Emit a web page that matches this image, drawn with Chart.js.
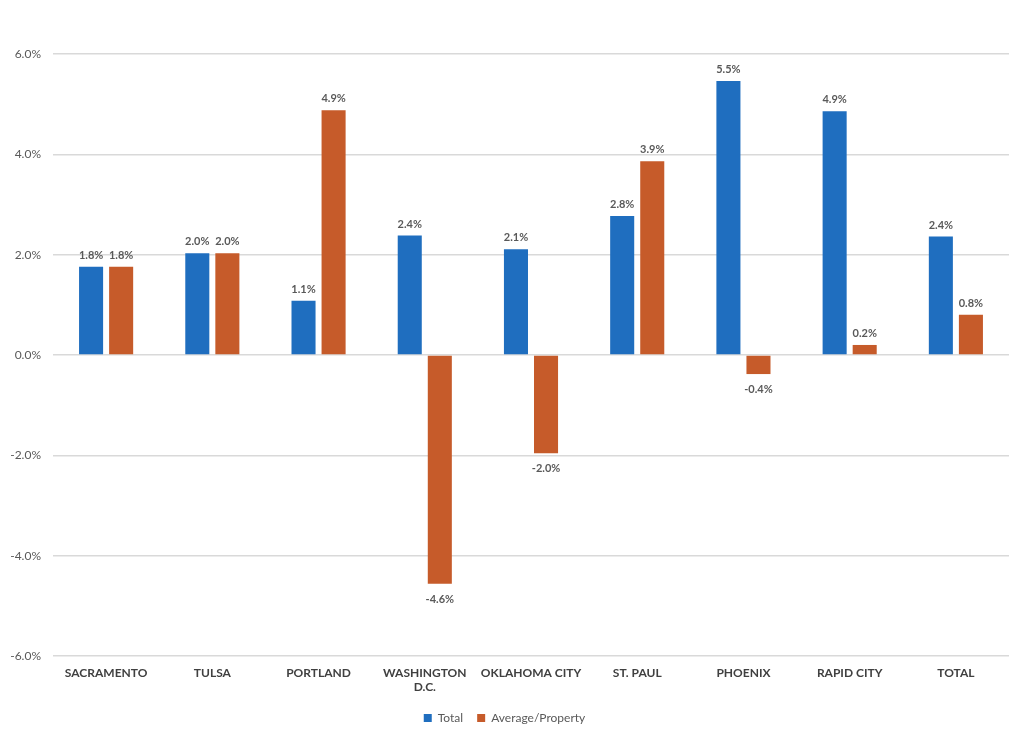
<!DOCTYPE html>
<html>
<head>
<meta charset="utf-8">
<script src="https://cdn.jsdelivr.net/npm/chart.js@4.4.1/dist/chart.umd.min.js"></script>
<style>
  html, body { margin: 0; padding: 0; background: #ffffff; }
  #wrap { width: 1024px; height: 742px; position: relative; }
</style>
</head>
<body>
<div id="wrap"><canvas id="growth-chart"></canvas></div>
<script>
const cities = [
  "SACRAMENTO",
  "TULSA",
  "PORTLAND",
  ["WASHINGTON", "D.C."],
  "OKLAHOMA CITY",
  "ST. PAUL",
  "PHOENIX",
  "RAPID CITY",
  "TOTAL",
];
const totalValues = [1.76, 2.03, 1.08, 2.38, 2.11, 2.77, 5.46, 4.86, 2.36];
const averageValues = [1.76, 2.03, 4.88, -4.56, -1.96, 3.86, -0.38, 0.2, 0.8];
const yTicks = [-6, -4, -2, 0, 2, 4, 6];

const labelColor = "#595959";
const fontFamily = "Lato, 'Open Sans', sans-serif";

const valueLabelPlugin = {
  id: "valueLabels",
  afterDatasetsDraw(chart) {
    const ctx = chart.ctx;
    ctx.save();
    ctx.font = `bold 11px ${fontFamily}`;
    ctx.fillStyle = labelColor;
    ctx.textAlign = "center";
    chart.data.datasets.forEach((dataset, datasetIndex) => {
      const meta = chart.getDatasetMeta(datasetIndex);
      meta.data.forEach((bar, index) => {
        const value = dataset.data[index];
        const text = `${value.toFixed(1)}%`;
        if (value >= 0) {
          ctx.textBaseline = "bottom";
          ctx.fillText(text, bar.x, bar.y - 6);
        } else {
          ctx.textBaseline = "top";
          ctx.fillText(text, bar.x, bar.y + 10);
        }
      });
    });
    ctx.restore();
  },
};

function renderChart() {
  const canvas = document.getElementById("growth-chart");

  new Chart(canvas, {
    type: "bar",
    data: {
      labels: cities,
      datasets: [
        {
          label: "Total",
          data: totalValues,
          backgroundColor: "#1f6ebf",
          categoryPercentage: 0.566,
          barPercentage: 0.8,
        },
        {
          label: "Average/Property",
          data: averageValues,
          backgroundColor: "#c65b2a",
          categoryPercentage: 0.566,
          barPercentage: 0.8,
        },
      ],
    },
    options: {
      responsive: true,
      maintainAspectRatio: false,
      animation: false,
      layout: {
        padding: { top: 54, right: 15, bottom: 8, left: 0 },
      },
      plugins: {
        tooltip: { enabled: false },
        legend: {
          position: "bottom",
          labels: {
            usePointStyle: true,
            pointStyle: "rect",
            boxWidth: 8,
            boxHeight: 8,
            padding: 14,
            color: labelColor,
            font: { family: fontFamily, size: 12 },
          },
        },
      },
      scales: {
        x: {
          grid: { display: false },
          border: { display: false },
          ticks: {
            color: "#404040",
            maxRotation: 0,
            autoSkip: false,
            padding: 2,
            font: { family: fontFamily, size: 12, weight: "bold" },
          },
          afterFit(scale) {
            scale.height = 42;
          },
        },
        y: {
          min: -6,
          max: 6,
          afterBuildTicks(scale) {
            scale.ticks = yTicks.map((value) => ({ value }));
          },
          grid: { color: "#d9d9d9", lineWidth: 1.5, drawTicks: false },
          border: { display: false },
          ticks: {
            color: labelColor,
            padding: 12,
            font: { family: fontFamily, size: 12 },
            callback: (value) => `${Number(value).toFixed(1)}%`,
          },
          afterFit(scale) {
            scale.width = 53;
          },
        },
      },
    },
    plugins: [valueLabelPlugin],
  });
}

renderChart();
</script>
</body>
</html>
